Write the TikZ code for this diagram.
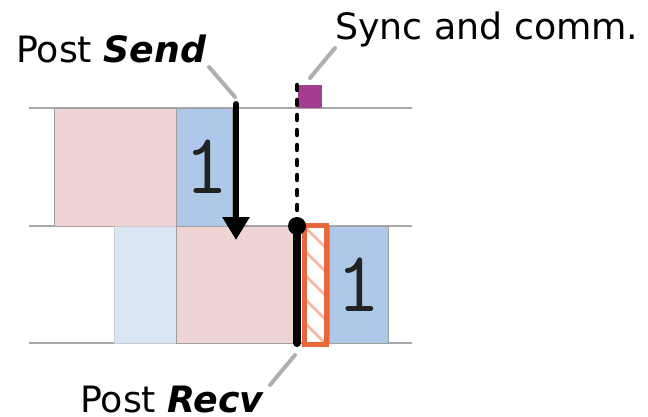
\documentclass[tikz,border=0pt]{standalone}
\usepackage{fontspec}
\setmainfont{DejaVu Sans}
\usetikzlibrary{arrows.meta}
\definecolor{pinkfill}{HTML}{F0D3D3}
\definecolor{bluefill}{HTML}{ADC8E8}
\definecolor{lightbluefill}{HTML}{DAE5F3}
\definecolor{syncpurple}{HTML}{A33D8F}
\definecolor{recvorange}{HTML}{E8673A}
\definecolor{hatchorange}{HTML}{F5B59F}
\definecolor{leadergray}{HTML}{AFAFAF}
\definecolor{rulegray}{HTML}{A8A8A8}
\definecolor{digitgray}{HTML}{222222}
\begin{document}
\begin{tikzpicture}[x=1pt,y=-1pt,
  rowline/.style={draw=rulegray, line width=1.2pt},
  box/.style={draw=gray!75, line width=0.8pt},
  leader/.style={draw=leadergray, line width=4pt, line cap=round},
  label/.style={font=\fontsize{36.3}{40}\selectfont, inner sep=0pt, anchor=base west},
  digit/.style={font={\ttfamily\addfontfeature{FakeBold=5}\fontsize{86}{90}\selectfont}, text=digitgray, inner sep=0pt}]
\useasboundingbox (0,0) rectangle (648,417);
% timeline rules
\draw[rowline] (29,108) -- (412,108);
\draw[rowline] (29,226) -- (412,226);
\draw[rowline] (29,343) -- (412,343);
% row 1
\draw[box, fill=pinkfill] (54,108) rectangle (176,226);
\draw[box, fill=bluefill] (176,108) rectangle (232,226);
\node[digit] (one1) at (206.5,167) {1};
% row 2
\draw[box, draw=gray!40, fill=lightbluefill] (114,226) rectangle (176,343);
\draw[box, fill=pinkfill] (176,226) rectangle (297,343);
\draw[box, fill=bluefill] (329,226) rectangle (388,343);
\node[digit] (one2) at (358.5,285) {1};
% hatched receive box
\begin{scope}
  \clip (304.5,225.5) rectangle (326.5,344.5);
  \foreach \k in {-50,-26,...,160}
    \draw[hatchorange, line width=2.6pt] (300,200+\k) -- (332,232+\k);
\end{scope}
\draw[recvorange, line width=5pt] (304.5,225.5) rectangle (326.5,344.5);
% sync square
\fill[syncpurple] (298,85) rectangle (322,108);
% send arrow
\draw[line width=6pt, line cap=round, -{Triangle[width=26pt,length=23pt]}] (236,104) -- (236,240);
% dotted sync line
\draw[line width=4.5pt, line cap=round, dash pattern=on 5pt off 10pt] (297,85) -- (297,226);
% receive line
\draw[line width=8pt, line cap=round] (297,226) -- (297,343);
\fill (297,226) circle (9);
% labels
\node[label] (send) at (16,63) {Post \textbf{\textit{Send}}};
\node[label] (sync) at (335,40) {Sync and comm.};
\node[label] (recv) at (80,412) {Post \textbf{\textit{Recv}}};
% leaders
\coordinate (sendA) at (209,67);
\coordinate (sendB) at (235,97);
\coordinate (syncA) at (335,48);
\coordinate (syncB) at (310,78);
\coordinate (recvA) at (270,385);
\coordinate (recvB) at (295,355);
\draw[leader] (sendA) -- (sendB);
\draw[leader] (syncA) -- (syncB);
\draw[leader] (recvA) -- (recvB);
\end{tikzpicture}
\end{document}
